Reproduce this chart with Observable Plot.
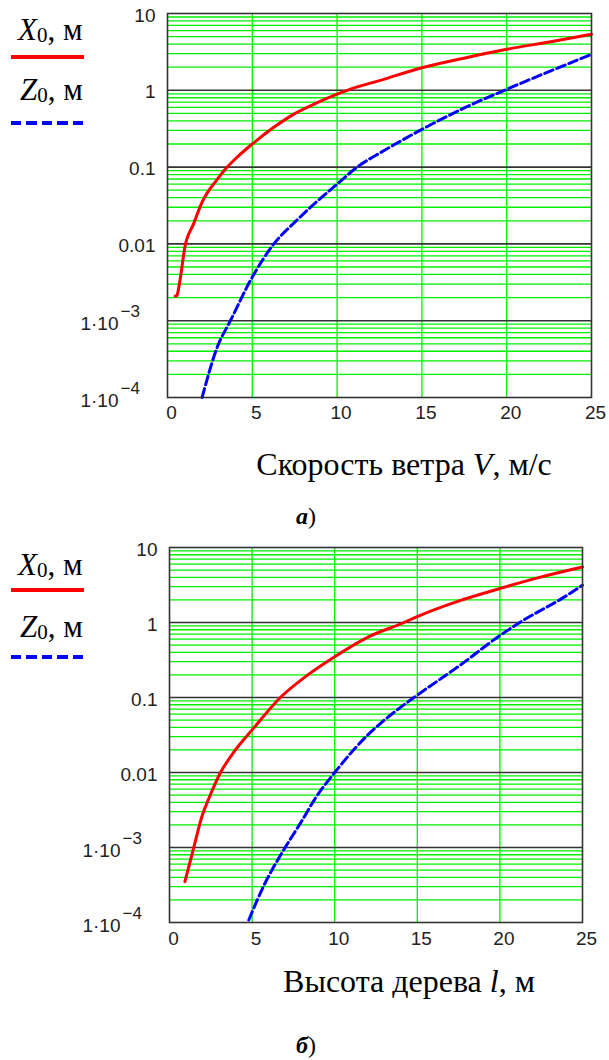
<!DOCTYPE html>
<html><head><meta charset="utf-8">
<script src="https://cdn.jsdelivr.net/npm/d3@7"></script>
<script src="https://cdn.jsdelivr.net/npm/@observablehq/plot@0.6"></script>
<style>
body{margin:0;background:#fff}
#root{position:relative;width:609px;height:1060px;background:#fff;overflow:hidden}
.panel{position:absolute;left:0;width:609px}
.panel svg{display:block}
.t{position:absolute;white-space:nowrap;font-family:'Liberation Serif','Times New Roman',serif;color:#000}
.leg{font-size:31px;line-height:31px}
.leg .s{font-size:21px;position:relative;top:2px}
.ttl{font-size:32px;line-height:32px;transform:translateX(-50%)}
.cap{font-size:24px;line-height:24px}
.sw{position:absolute;left:11px;width:73px}
.red{height:3.5px;background:#ff0000}
.blue{height:4px;background:repeating-linear-gradient(to right,#0000ff 0 10px,transparent 10px 15.5px)}
</style></head><body><div id="root">
<div class="panel" id="pb" style="top:520px"></div>
<div class="panel" id="pa" style="top:0px"></div>

<div class="t leg" style="left:18px;top:14px"><i>X</i><span class="s">0</span>, м</div>
<div class="sw red" style="top:55px"></div>
<div class="t leg" style="left:20px;top:74px"><i>Z</i><span class="s">0</span>, м</div>
<div class="sw blue" style="top:121px"></div>

<div class="t leg" style="left:18px;top:549px"><i>X</i><span class="s">0</span>, м</div>
<div class="sw red" style="top:588px"></div>
<div class="t leg" style="left:20px;top:611px"><i>Z</i><span class="s">0</span>, м</div>
<div class="sw blue" style="top:655px"></div>

<div class="t ttl" style="left:404px;top:448px">Скорость ветра <i>V</i>, м/с</div>
<div class="t ttl" style="left:409px;top:965px">Высота дерева <i>l</i>, м</div>
<div class="t cap" style="left:296px;top:504px"><b><i>а</i></b>)</div>
<div class="t cap" style="left:296px;top:1033px"><b><i>б</i></b>)</div>
</div>
<script>
// ---- axis ticks / labels ----
const xTicks = [0, 5, 10, 15, 20, 25];
const xTickLabels = ["0", "5", "10", "15", "20", "25"];
const yMajor = [1e-4, 1e-3, 0.01, 0.1, 1, 10];
const yPlainLabels = [{v: 10, t: "10"}, {v: 1, t: "1"}, {v: 0.1, t: "0.1"}, {v: 0.01, t: "0.01"}];
const yExpLabels = [{v: 1e-3, e: "−3"}, {v: 1e-4, e: "−4"}];

// ---- panel а: wind speed V, m/s ----
const windV_X = [0.45, 0.53, 0.73, 1.02, 1.55, 2.04, 2.93, 3.52, 4.11, 5.0, 6.27, 7.45, 8.83, 10.0, 10.6, 12.75, 15.0, 17.47, 20.0, 22.6, 25.0];
const X0_wind = [0.0021, 0.0021, 0.0033, 0.009, 0.0185, 0.035, 0.069, 0.10, 0.135, 0.20, 0.33, 0.49, 0.69, 0.89, 1.0, 1.39, 1.97, 2.62, 3.42, 4.3, 5.36];
const windV_Z = [2.04, 2.93, 3.71, 5.0, 6.27, 7.55, 8.83, 10.0, 11.18, 12.75, 15.0, 17.47, 20.0, 22.6, 25.0];
const Z0_wind = [1.0e-4, 4.5e-4, 0.001, 0.0037, 0.01, 0.0196, 0.036, 0.06, 0.10, 0.163, 0.31, 0.585, 1.03, 1.79, 2.94];

// ---- panel б: tree height l, m ----
const treeL_X = [0.93, 1.47, 1.98, 2.38, 3.09, 3.89, 4.7, 5.0, 6.71, 8.33, 10.0, 11.96, 14.2, 15.0, 17.4, 20.0, 22.4, 25.0];
const X0_tree = [3.5e-4, 0.001, 0.00267, 0.0045, 0.01, 0.0187, 0.031, 0.037, 0.10, 0.197, 0.35, 0.63, 1.0, 1.2, 1.9, 2.84, 4.0, 5.5];
const treeL_Z = [4.8, 5.71, 6.82, 7.92, 8.93, 10.0, 11.96, 13.37, 14.8, 17.6, 20.0, 21.2, 24.06, 25.0];
const Z0_tree = [1.08e-4, 3.1e-4, 8.6e-4, 0.0021, 0.0049, 0.01, 0.031, 0.058, 0.10, 0.27, 0.67, 1.0, 2.3, 3.14];

// minor log grid (2..9 in each decade)
const yMinor = [];
for (let e = -4; e < 1; e++) for (let m = 2; m <= 9; m++) yMinor.push(m * Math.pow(10, e));

const sans = "'Liberation Sans', Arial, sans-serif";
const GREEN = "#00f000", DARK = "#333";

function panel(o) {
  const red = o.xX.map((x, i) => ({x, y: o.yX[i]}));
  const blue = o.xZ.map((x, i) => ({x, y: o.yZ[i]}));
  const xl = xTicks.map((v, i) => ({v, t: xTickLabels[i]}));
  return Plot.plot({
    width: 609, height: o.height,
    marginLeft: o.ml, marginRight: o.mr, marginTop: o.mt, marginBottom: o.mb,
    x: {domain: [0, 25], axis: null},
    y: {type: "log", domain: [1e-4, 10], axis: null},
    style: {fontFamily: sans, background: "transparent", overflow: "visible"},
    marks: [
      Plot.ruleY(yMinor, {stroke: GREEN, strokeWidth: 1.3}),
      Plot.ruleX(xTicks.slice(1, -1), {stroke: GREEN, strokeWidth: 1.3}),
      Plot.ruleY(yMajor.slice(1, -1), {stroke: DARK, strokeWidth: 1.6}),
      Plot.line(red, {x: "x", y: "y", stroke: "#ff0000", strokeWidth: 3, curve: "monotone-x"}),
      Plot.line(blue, {x: "x", y: "y", stroke: "#0000ff", strokeWidth: 3, strokeDasharray: "9,4", curve: "monotone-x"}),
      Plot.frame({stroke: DARK, strokeWidth: 1.6}),
      Plot.text(yPlainLabels, {y: "v", text: "t", frameAnchor: "left", textAnchor: "end", dx: o.ldx, dy: 2, fontSize: 19, fill: "#222"}),
      Plot.text(yExpLabels, {y: "v", text: () => "1·10", frameAnchor: "left", textAnchor: "end", dx: o.ldx - 37, dy: 3, fontSize: 19, fill: "#222"}),
      Plot.text(yExpLabels, {y: "v", text: "e", frameAnchor: "left", textAnchor: "start", dx: o.ldx - 35, dy: -9, fontSize: 17, fill: "#222"}),
      Plot.text(xl, {x: "v", text: "t", frameAnchor: "bottom", dy: o.xdy, dx: 4, fontSize: 19, fill: "#222"})
    ]
  });
}

document.getElementById("pb").appendChild(panel({height: 450, ml: 169, mr: 27, mt: 27, mb: 48, ldx: -12, xdy: 22,
  xX: treeL_X, yX: X0_tree, xZ: treeL_Z, yZ: Z0_tree}));
document.getElementById("pa").appendChild(panel({height: 440, ml: 167, mr: 18, mt: 13, mb: 43, ldx: -12, xdy: 21,
  xX: windV_X, yX: X0_wind, xZ: windV_Z, yZ: Z0_wind}));
</script></body></html>
